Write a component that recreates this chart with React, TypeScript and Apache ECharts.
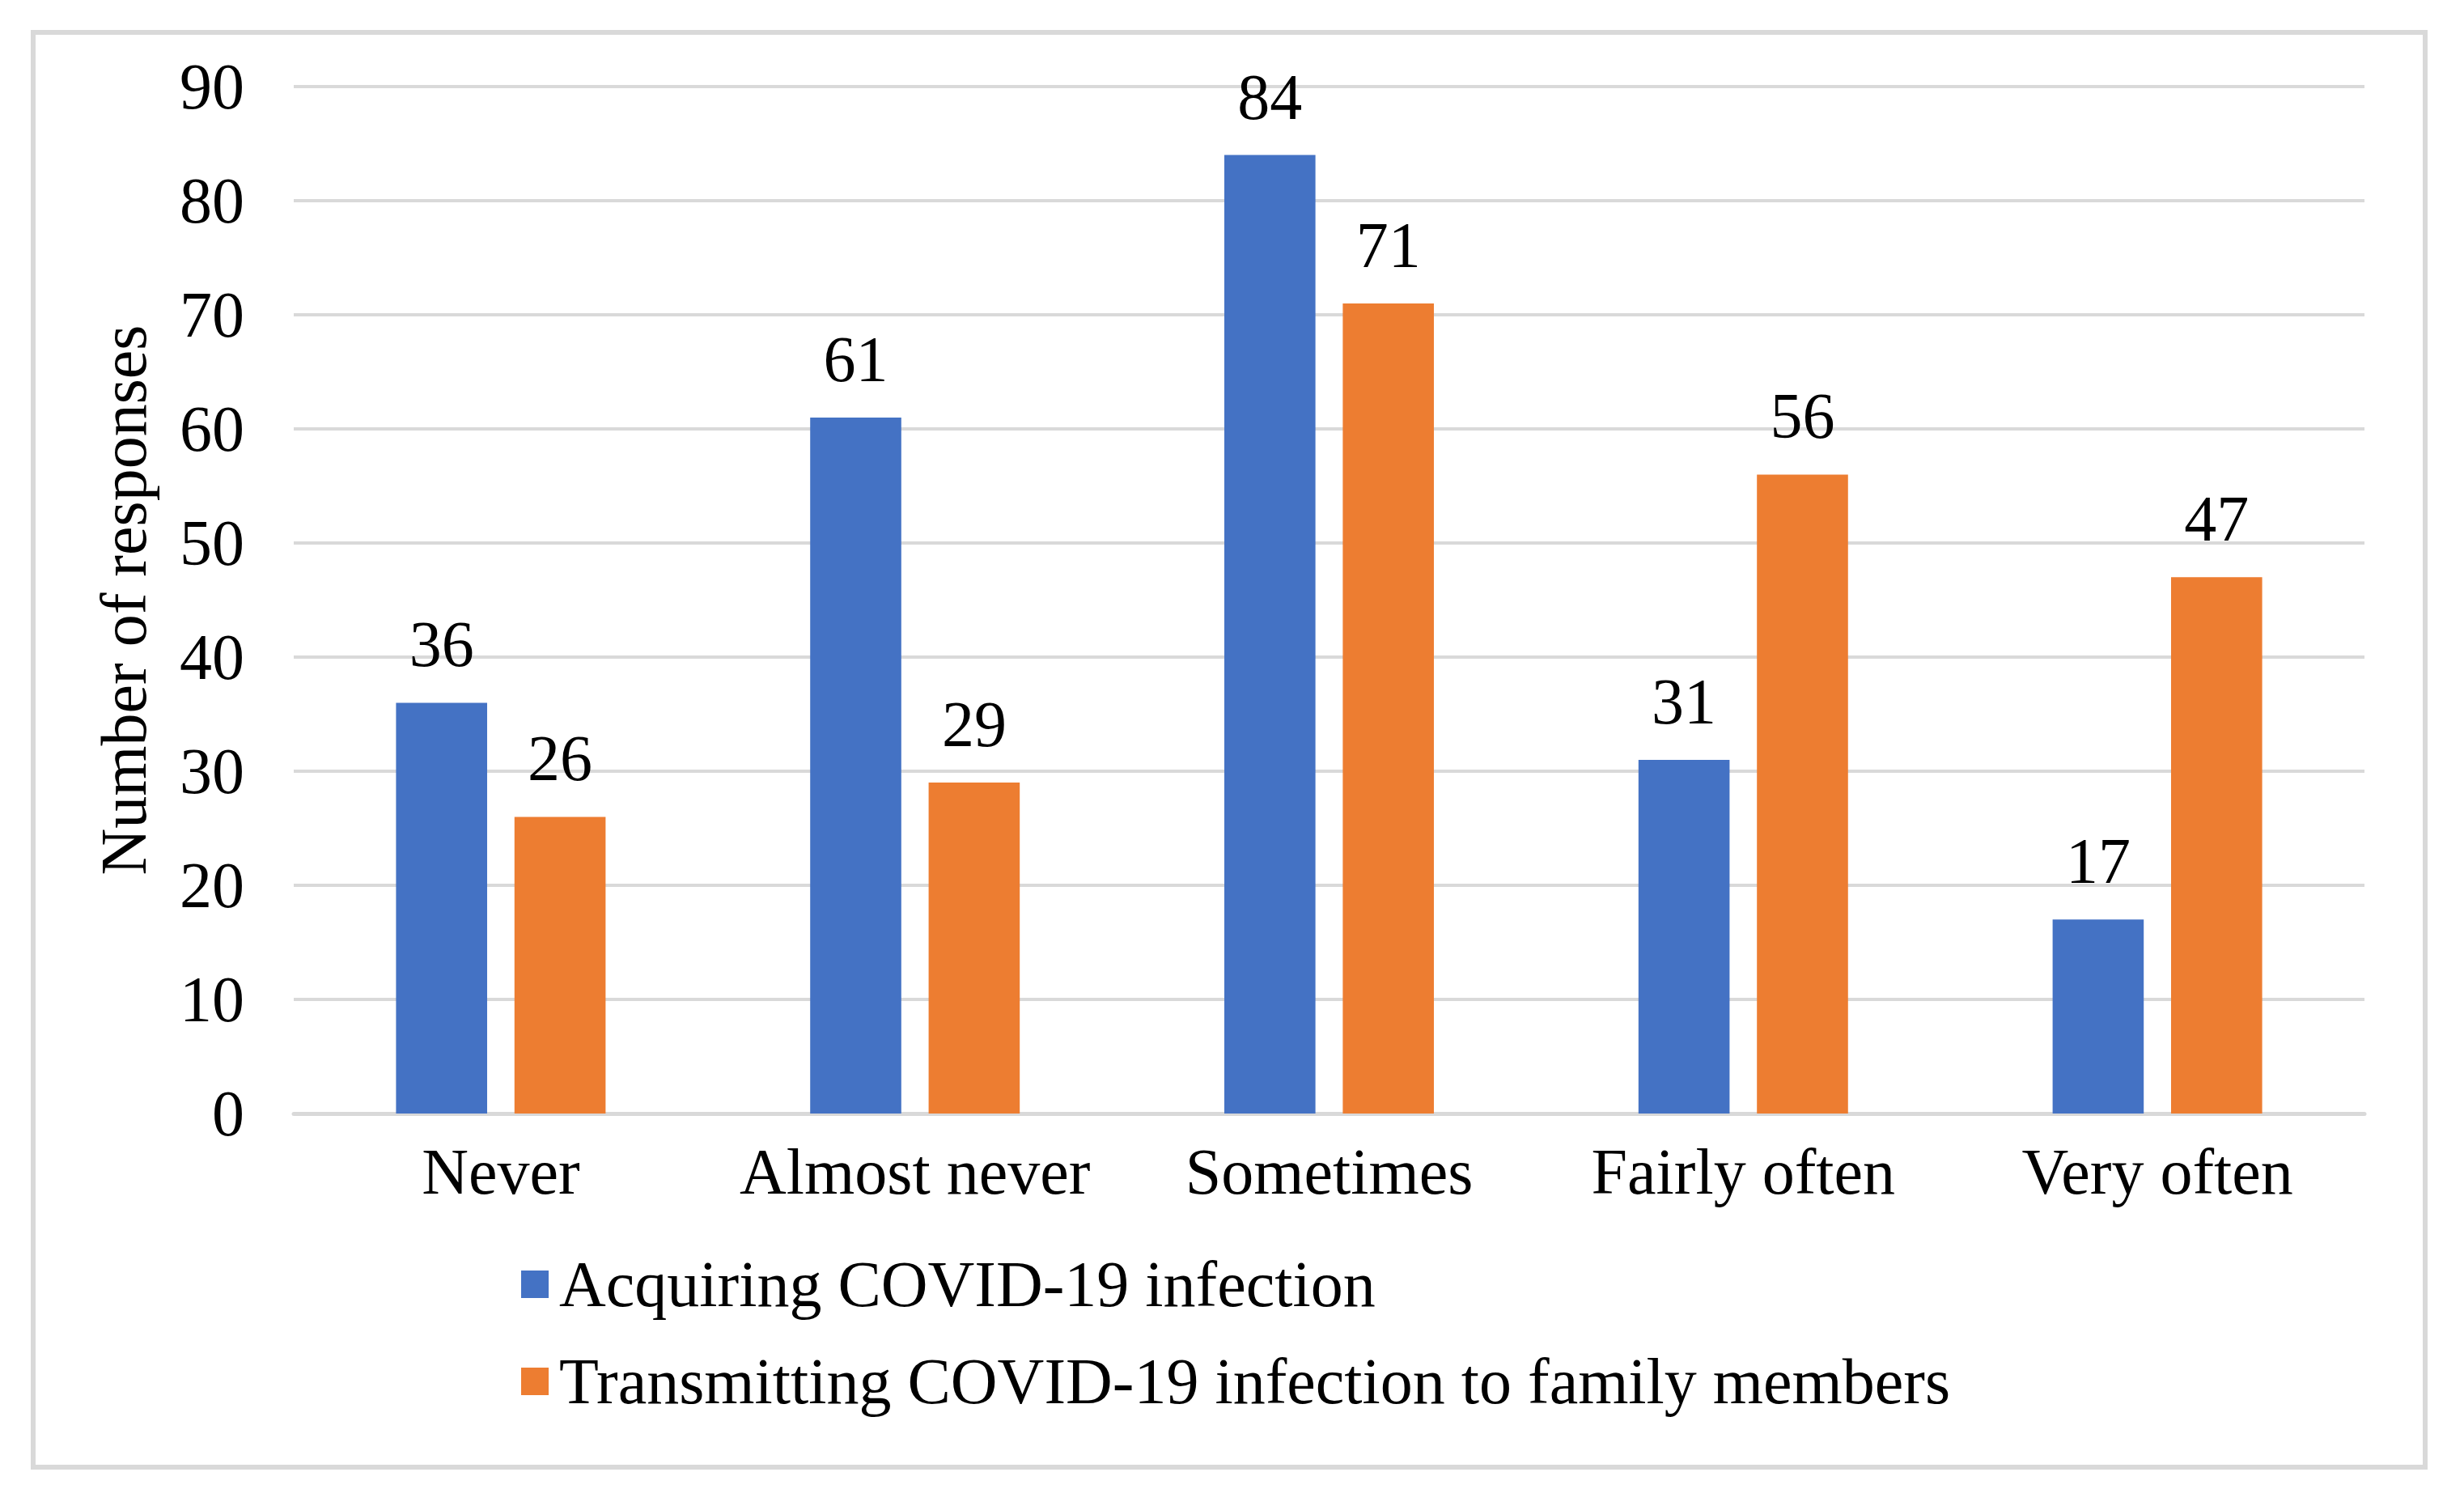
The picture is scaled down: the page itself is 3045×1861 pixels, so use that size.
import React, { useEffect, useRef } from "react";
import * as echarts from "echarts";

const categories = ["Never", "Almost never", "Sometimes", "Fairly often", "Very often"];
const acquiring = [36, 61, 84, 31, 17];
const transmitting = [26, 29, 71, 56, 47];
const seriesNames = [
  "Acquiring COVID-19 infection",
  "Transmitting COVID-19 infection to family members",
];
const yAxisTitle = "Number of responses";

const FONT = '"Liberation Serif", "Times New Roman", serif';

export default function App() {
  const ref = useRef<HTMLDivElement>(null);

  useEffect(() => {
    document.body.style.margin = "0";
    document.body.style.overflow = "hidden";
    const chart = echarts.init(ref.current!, null, { renderer: "svg" });
    const labelStyle = {
      show: true,
      position: "top",
      distance: 32,
      fontSize: 80,
      fontFamily: FONT,
      color: "#000",
    };
    chart.setOption({
      animation: false,
      backgroundColor: "#ffffff",
      textStyle: { fontFamily: FONT },
      graphic: [
        {
          type: "rect",
          shape: { x: 41, y: 40, width: 2956, height: 1773 },
          style: { fill: "none", stroke: "#D9D9D9", lineWidth: 6 },
          silent: true,
        },
      ],
      grid: { left: 363, right: 123, top: 107, bottom: 485, containLabel: false },
      legend: {
        orient: "vertical",
        left: 639,
        top: 1542,
        itemWidth: 34,
        itemHeight: 34,
        itemGap: 40,
        icon: "rect",
        textStyle: {
          fontSize: 80,
          lineHeight: 80,
          fontFamily: FONT,
          color: "#000",
          padding: [0, 0, 0, 8],
        },
        data: seriesNames,
      },
      xAxis: {
        type: "category",
        data: categories,
        axisTick: { show: false },
        axisLine: { show: true, lineStyle: { color: "#D9D9D9", width: 5 } },
        axisLabel: { fontSize: 80, fontFamily: FONT, color: "#000", margin: 32, interval: 0 },
      },
      yAxis: {
        type: "value",
        min: 0,
        max: 90,
        interval: 10,
        name: yAxisTitle,
        nameLocation: "middle",
        nameGap: 170,
        nameTextStyle: { fontSize: 80, lineHeight: 80, fontFamily: FONT, color: "#000" },
        axisLine: { show: false },
        axisTick: { show: false },
        axisLabel: { fontSize: 80, fontFamily: FONT, color: "#000", margin: 61 },
        splitLine: { lineStyle: { color: "#D9D9D9", width: 4 } },
      },
      series: [
        {
          name: seriesNames[0],
          type: "bar",
          data: acquiring,
          barWidth: "22%",
          barGap: "30%",
          itemStyle: { color: "#4472C4" },
          label: labelStyle,
        },
        {
          name: seriesNames[1],
          type: "bar",
          data: transmitting,
          barWidth: "22%",
          barGap: "30%",
          itemStyle: { color: "#ED7D31" },
          label: labelStyle,
        },
      ],
    });
    return () => chart.dispose();
  }, []);

  return (
    <div
      ref={ref}
      style={{ position: "absolute", left: 0, top: 0, width: 3045, height: 1861 }}
    />
  );
}
